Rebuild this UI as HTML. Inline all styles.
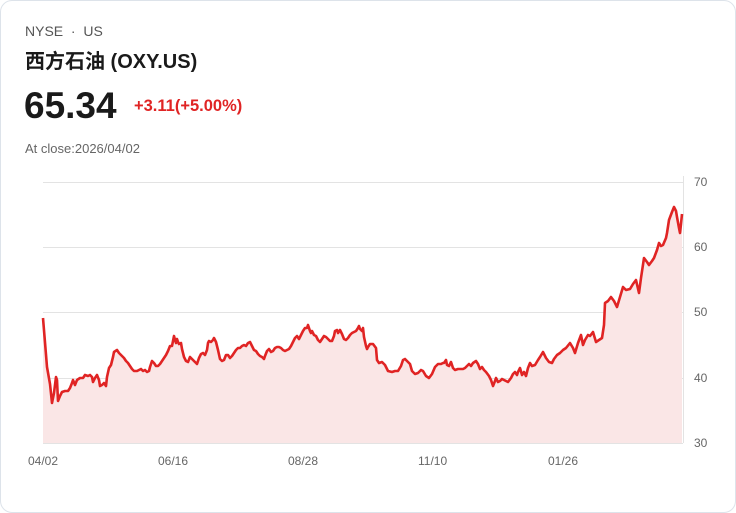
<!DOCTYPE html>
<html><head><meta charset="utf-8"><style>
body{margin:0;background:#fff;font-family:"Liberation Sans","Noto Sans CJK SC",sans-serif;}
.card{position:absolute;left:0;top:0;width:734px;height:511px;border:1px solid #dde3ea;border-radius:12px;background:#fff;}
.t{position:absolute;white-space:nowrap;}
</style></head><body>
<div class="card"></div>
<div class="t" style="left:25px;top:23px;font-size:14px;color:#555;">NYSE &nbsp;·&nbsp; US</div>
<div class="t" style="left:25px;top:45px;font-size:20px;font-weight:bold;color:#1a1a1a;">西方石油 (OXY.US)</div>
<div class="t" style="left:24px;top:85px;font-size:37px;font-weight:bold;color:#1a1a1a;">65.34</div>
<div class="t" style="left:134px;top:97px;font-size:16.5px;font-weight:bold;color:#e02424;">+3.11(+5.00%)</div>
<div class="t" style="left:25px;top:141px;font-size:13px;color:#666;">At close:2026/04/02</div>
<svg width="736" height="513" style="position:absolute;left:0;top:0">
<g stroke="#e3e3e3" stroke-width="1">
<line x1="43" y1="182.5" x2="683" y2="182.5"/><line x1="43" y1="247.5" x2="683" y2="247.5"/>
<line x1="43" y1="312.5" x2="683" y2="312.5"/><line x1="43" y1="378.5" x2="683" y2="378.5"/>
<line x1="43" y1="443.5" x2="683" y2="443.5"/><line x1="683.5" y1="176" x2="683.5" y2="443"/>
</g>
<g font-size="12" fill="#666" font-family="Liberation Sans,sans-serif">
<text x="694" y="186">70</text><text x="694" y="251">60</text><text x="694" y="316">50</text><text x="694" y="382">40</text><text x="694" y="447">30</text>
<text x="28" y="465">04/02</text><text x="158" y="465">06/16</text><text x="288" y="465">08/28</text><text x="418" y="465">11/10</text><text x="548" y="465">01/26</text>
</g>
<polygon id="f" fill="#fae6e6" points=""/>
<polyline id="l" fill="none" stroke="#e02424" stroke-width="2.6" stroke-linejoin="round" points=""/>
</svg>
<script>
var p="43,318 47,367 50,384 52,403 54,393 56,377 57,380 58,401 60,396 62,392 65,391 68,391 70,388 72,383 73,380 75,385 77,380 80,378 83,378 85,375 88,376 90,375 92,377 93,382 95,378 97,375 99,380 100,386 102,385 104,383 106,386 107,377 109,368 111,365 113,357 114,352 117,350 119,353 121,355 124,358 126,361 128,363 130,366 132,369 134,371 137,371 139,370 141,369 143,371 145,370 147,372 149,371 150,367 152,361 154,363 156,366 158,366 160,364 162,361 164,358 166,355 168,351 170,346 172,346 173,341 174,336 175,340 176,343 177,339 178,342 179,344 181,343 182,349 184,357 186,361 188,362 190,357 192,359 195,362 197,364 199,358 201,354 203,353 205,355 207,350 208,343 209,341 211,342 213,340 214,338 216,342 218,350 220,359 222,361 224,360 226,355 228,355 230,358 232,356 234,353 236,350 238,348 240,348 242,346 244,345 246,346 248,343 250,342 252,346 254,350 256,351 258,354 260,356 262,357 264,359 265,356 267,351 269,349 271,352 273,351 275,348 277,347 279,347 281,348 283,350 285,351 287,350 289,349 291,346 293,342 295,338 297,336 299,339 301,335 303,331 305,328 307,328 308,325 310,331 311,333 312,331 314,335 316,336 318,340 320,342 322,339 324,336 326,337 328,339 330,341 332,341 334,336 335,331 337,330 338,333 340,330 342,334 344,339 346,340 348,338 350,335 352,333 354,332 356,331 358,328 359,326 360,329 362,331 363,328 364,337 366,346 367,349 368,347 370,344 373,344 376,348 377,360 379,363 382,362 385,365 388,371 392,372 395,371 398,371 401,366 403,360 405,359 408,362 410,364 412,371 415,374 418,373 421,370 423,371 426,376 429,378 432,374 435,367 438,364 441,364 443,363 444,363 446,360 447,365 449,366 451,362 453,368 455,370 458,369 460,369 463,369 465,368 467,366 469,364 471,366 473,363 476,361 478,364 480,369 482,367 484,370 486,372 489,376 491,380 493,386 495,381 496,378 498,382 500,381 502,379 504,380 506,381 508,382 511,378 513,374 515,372 517,375 518,372 520,368 522,375 524,372 526,376 528,368 530,363 532,366 535,365 538,360 540,357 543,352 546,358 549,362 552,363 554,359 557,355 560,353 563,350 566,348 570,343 573,348 575,353 578,343 581,335 583,345 585,340 588,335 590,336 593,332 596,342 599,340 602,338 604,325 605,303 608,301 611,297 614,301 617,307 620,297 623,287 626,290 630,289 633,284 636,280 639,293 641,278 644,258 647,262 649,265 652,261 654,258 657,250 659,243 661,246 663,245 666,238 667,233 669,220 672,212 674,207 676,211 677,217 679,228 680,233 681,224 682,214";
document.getElementById('l').setAttribute('points',p);
document.getElementById('f').setAttribute('points',"43,443 "+p+" 682,443");
</script>
</body></html>
